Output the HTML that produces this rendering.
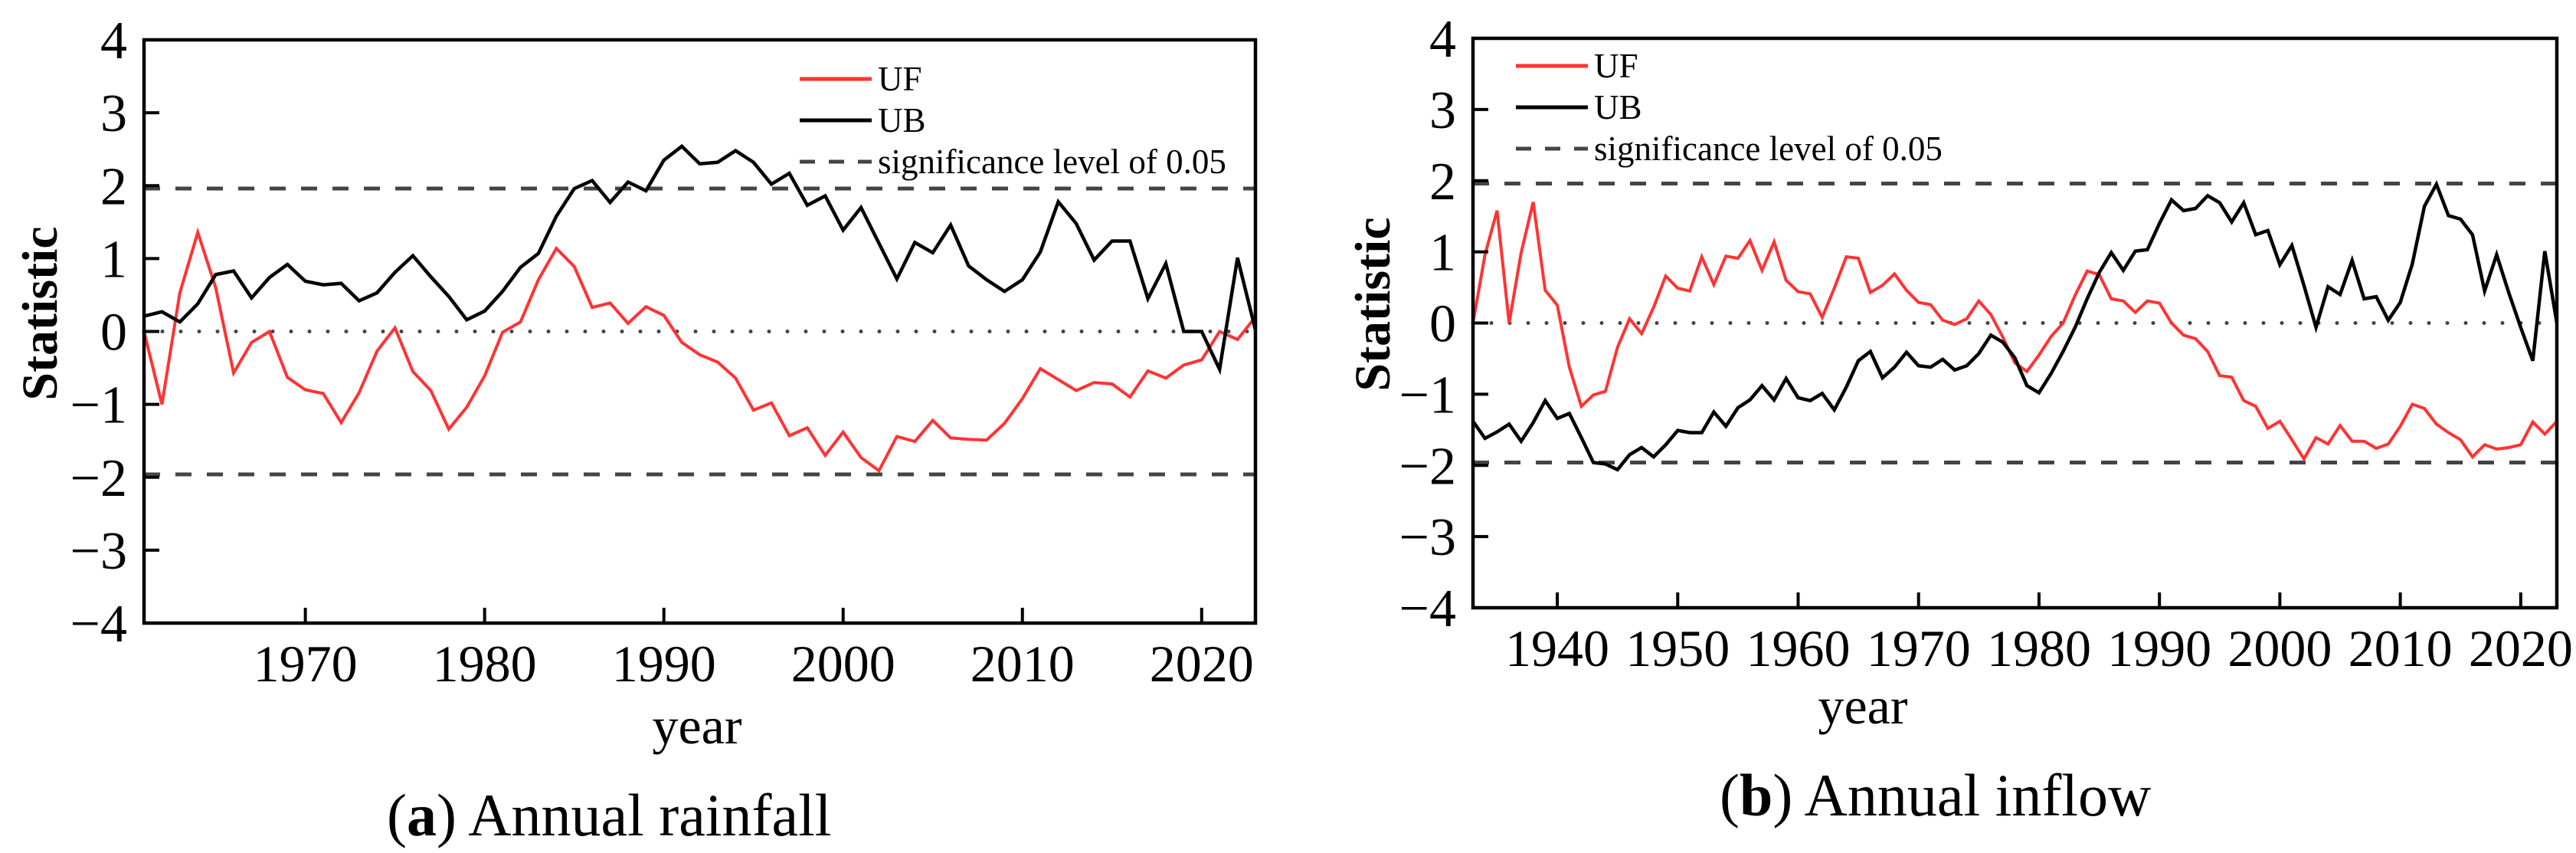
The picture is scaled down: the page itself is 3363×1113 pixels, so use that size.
<!DOCTYPE html>
<html>
<head>
<meta charset="utf-8">
<style>
html,body{margin:0;padding:0;background:#fff;}
svg{display:block;}
text, tspan{font-family:"Liberation Serif","Times New Roman",serif;fill:#000;}
</style>
</head>
<body>
<svg id="fig" width="3363" height="1113" viewBox="0 0 3363 1113" xmlns="http://www.w3.org/2000/svg" font-family="Liberation Serif, serif">
  <rect x="0" y="0" width="3363" height="1113" fill="#fff"/>
  <g id="panelA"></g>
  <g id="panelB"></g>
</svg>
<script>
// ---- Panel (a) data: Annual rainfall ----
const yearsA = [1961,1962,1963,1964,1965,1966,1967,1968,1969,1970,1971,1972,1973,1974,1975,1976,1977,1978,1979,1980,1981,1982,1983,1984,1985,1986,1987,1988,1989,1990,1991,1992,1993,1994,1995,1996,1997,1998,1999,2000,2001,2002,2003,2004,2005,2006,2007,2008,2009,2010,2011,2012,2013,2014,2015,2016,2017,2018,2019,2020,2021,2022,2023];
const ufA = [0,-1.0,0.53,1.36,0.6,-0.57,-0.15,0.0,-0.63,-0.8,-0.85,-1.25,-0.84,-0.27,0.05,-0.55,-0.81,-1.34,-1.04,-0.61,-0.01,0.13,0.71,1.14,0.89,0.33,0.39,0.11,0.34,0.22,-0.15,-0.32,-0.42,-0.64,-1.08,-0.98,-1.43,-1.32,-1.70,-1.38,-1.73,-1.91,-1.44,-1.51,-1.22,-1.46,-1.48,-1.49,-1.26,-0.92,-0.51,-0.66,-0.81,-0.70,-0.72,-0.90,-0.54,-0.64,-0.46,-0.39,0.0,-0.11,0.2];
const ubA = [0.21,0.27,0.13,0.38,0.78,0.83,0.46,0.74,0.92,0.69,0.64,0.66,0.42,0.53,0.81,1.04,0.75,0.48,0.16,0.28,0.55,0.88,1.07,1.58,1.96,2.07,1.77,2.05,1.93,2.35,2.54,2.30,2.32,2.48,2.32,2.02,2.17,1.73,1.86,1.39,1.70,1.21,0.72,1.22,1.08,1.46,0.90,0.71,0.55,0.71,1.09,1.78,1.48,0.98,1.24,1.24,0.45,0.93,0.0,0.0,-0.52,1.01,0.02];
const xTicksA = [1970,1980,1990,2000,2010,2020];

// ---- Panel (b) data: Annual inflow ----
const yearsB = [1933,1934,1935,1936,1937,1938,1939,1940,1941,1942,1943,1944,1945,1946,1947,1948,1949,1950,1951,1952,1953,1954,1955,1956,1957,1958,1959,1960,1961,1962,1963,1964,1965,1966,1967,1968,1969,1970,1971,1972,1973,1974,1975,1976,1977,1978,1979,1980,1981,1982,1983,1984,1985,1986,1987,1988,1989,1990,1991,1992,1993,1994,1995,1996,1997,1998,1999,2000,2001,2002,2003,2004,2005,2006,2007,2008,2009,2010,2011,2012,2013,2014,2015,2016,2017,2018,2019,2020,2021,2022,2023];
const ufB = [0,0.96,1.58,0,0.99,1.70,0.46,0.25,-0.62,-1.17,-1.01,-0.96,-0.34,0.06,-0.15,0.22,0.66,0.49,0.45,0.93,0.54,0.94,0.91,1.16,0.74,1.14,0.60,0.44,0.41,0.08,0.49,0.93,0.91,0.43,0.53,0.69,0.46,0.29,0.26,0.04,-0.02,0.06,0.31,0.12,-0.20,-0.56,-0.68,-0.45,-0.19,0,0.39,0.73,0.68,0.34,0.31,0.15,0.31,0.28,0,-0.17,-0.22,-0.40,-0.74,-0.76,-1.09,-1.17,-1.48,-1.38,-1.64,-1.91,-1.61,-1.70,-1.44,-1.66,-1.66,-1.76,-1.70,-1.45,-1.14,-1.20,-1.42,-1.54,-1.64,-1.88,-1.71,-1.77,-1.75,-1.71,-1.39,-1.56,-1.38];
const ubB = [-1.38,-1.62,-1.53,-1.42,-1.66,-1.40,-1.09,-1.34,-1.27,-1.61,-1.96,-1.98,-2.06,-1.85,-1.75,-1.88,-1.71,-1.51,-1.54,-1.54,-1.25,-1.45,-1.19,-1.08,-0.88,-1.08,-0.78,-1.05,-1.09,-0.99,-1.22,-0.90,-0.53,-0.40,-0.77,-0.62,-0.41,-0.60,-0.62,-0.51,-0.66,-0.60,-0.43,-0.17,-0.27,-0.49,-0.88,-0.98,-0.71,-0.40,-0.06,0.34,0.71,0.99,0.74,1.01,1.03,1.40,1.73,1.58,1.61,1.79,1.69,1.42,1.69,1.24,1.30,0.82,1.09,0.53,-0.06,0.51,0.40,0.88,0.34,0.37,0.04,0.29,0.83,1.64,1.95,1.51,1.46,1.24,0.45,0.96,0.43,-0.06,-0.53,1.01,0];
const xTicksB = [1940,1950,1960,1970,1980,1990,2000,2010,2020];

const yTickValues = [-4,-3,-2,-1,0,1,2,3,4];
const yTickLabels = ["\u22124","\u22123","\u22122","\u22121","0","1","2","3","4"];
const sigLevel = 1.96;

const NS = "http://www.w3.org/2000/svg";
const FONT = "Liberation Serif, serif";
function mk(tag, attrs, parent){
  const e = document.createElementNS(NS, tag);
  for (const k in attrs) e.setAttribute(k, attrs[k]);
  if (tag === "text") e.setAttribute("font-family", FONT);
  parent.appendChild(e);
  return e;
}

function drawPanel(g, cfg, years, uf, ub, xTicks){
  const {L,R,T,B,x0,x1} = cfg;
  const xs = v => L + (v - x0) / (x1 - x0) * (R - L);
  const ys = v => B - (v + 4) / 8 * (B - T);

  const zl = mk("line", {x1:L, x2:R, y1:ys(0), y2:ys(0), stroke:"#444", "stroke-width":5, "stroke-dasharray":"0 24", "stroke-linecap":"round"}, g);
  
  

  [sigLevel, -sigLevel].forEach((s,i) => {
    const d = mk("line", {x1:L, x2:R, y1:ys(s), y2:ys(s), stroke:"#444", "stroke-width":5, "stroke-dasharray":"21 20"}, g);
    
    
  });

  const pUF = years.map((y,i) => xs(y).toFixed(1) + "," + ys(uf[i]).toFixed(1)).join(" ");
  const lUF = mk("polyline", {points:pUF, fill:"none", stroke:"#ff3333", "stroke-width":4, "stroke-linejoin":"miter"}, g);
  
  
  const pUB = years.map((y,i) => xs(y).toFixed(1) + "," + ys(ub[i]).toFixed(1)).join(" ");
  const lUB = mk("polyline", {points:pUB, fill:"none", stroke:"#000", "stroke-width":4.5, "stroke-linejoin":"miter"}, g);
  
  

  const fr = mk("rect", {x:L, y:T, width:R-L, height:B-T, fill:"none", stroke:"#000", "stroke-width":4.5}, g);
  
  

  yTickValues.forEach((v,i) => {
    if (v > -4 && v < 4) {
      const t = mk("line", {x1:L, x2:L+20, y1:ys(v), y2:ys(v), stroke:"#000", "stroke-width":4}, g);
      
      
    }
    const lb = mk("text", {x:L-22, y:ys(v)+24, "text-anchor":"end", "font-size":70}, g);
    lb.textContent = yTickLabels[i];
    
    
  });

  xTicks.forEach(v => {
    const t = mk("line", {x1:xs(v), x2:xs(v), y1:B, y2:B-20, stroke:"#000", "stroke-width":4}, g);
    
    
    const lb = mk("text", {x:xs(v), y:B+76, "text-anchor":"middle", "font-size":68}, g);
    lb.textContent = String(v);
    
    
  });

  const yt = mk("text", {x:0, y:0, "text-anchor":"middle", "font-size":66, "font-weight":"bold", transform:`translate(${cfg.ytx},${cfg.yty}) rotate(-90)`}, g);
  yt.textContent = "Statistic";
  
  
  const xt = mk("text", {x:cfg.xtx, y:cfg.xty, "text-anchor":"middle", "font-size":68}, g);
  xt.textContent = "year";
  
  

  const lg = mk("g", {}, g);
  
  
  const items = [
    {name:'legend-entry-uf', label:'UF', stroke:'#ff3333', dash:null, w:5},
    {name:'legend-entry-ub', label:'UB', stroke:'#000', dash:null, w:5},
    {name:'legend-entry-significance', label:'significance level of 0.05', stroke:'#444', dash:'20 18', w:5}
  ];
  items.forEach((it,i) => {
    const yy = cfg.legY + i * cfg.legDy;
    const ent = mk("g", {}, lg);
    
    
    const a = {x1:cfg.legX, x2:cfg.legX+94, y1:yy, y2:yy, stroke:it.stroke, "stroke-width":it.w};
    if (it.dash) a["stroke-dasharray"] = it.dash;
    mk("line", a, ent);
    const tx = mk("text", {x:cfg.legX+102, y:yy+15, "font-size":45}, ent);
    tx.textContent = it.label;
  });

  const cap = mk("text", {x:cfg.capX, y:cfg.capY, "font-size":78}, g);
  
  
  const t1 = mk("tspan", {}, cap); t1.textContent = "(";
  const t2 = mk("tspan", {"font-weight":"bold"}, cap); t2.textContent = cfg.capLetter;
  const t3 = mk("tspan", {}, cap); t3.textContent = ") " + cfg.capText;
}

drawPanel(document.getElementById("panelA"),
  {L:188, R:1639, T:52, B:813, x0:1961, x1:2023, ytx:74, yty:409, xtx:910, xty:970,
   legX:1044, legY:103, legDy:54, capX:505, capY:1090, capLetter:"a", capText:"Annual rainfall"},
  yearsA, ufA, ubA, xTicksA);

drawPanel(document.getElementById("panelB"),
  {L:1923, R:3338, T:50, B:793, x0:1933, x1:2023, ytx:1814, yty:397, xtx:2432, xty:944,
   legX:1979, legY:86, legDy:54, capX:2245, capY:1064, capLetter:"b", capText:"Annual inflow"},
  yearsB, ufB, ubB, xTicksB);
</script>
</body>
</html>
